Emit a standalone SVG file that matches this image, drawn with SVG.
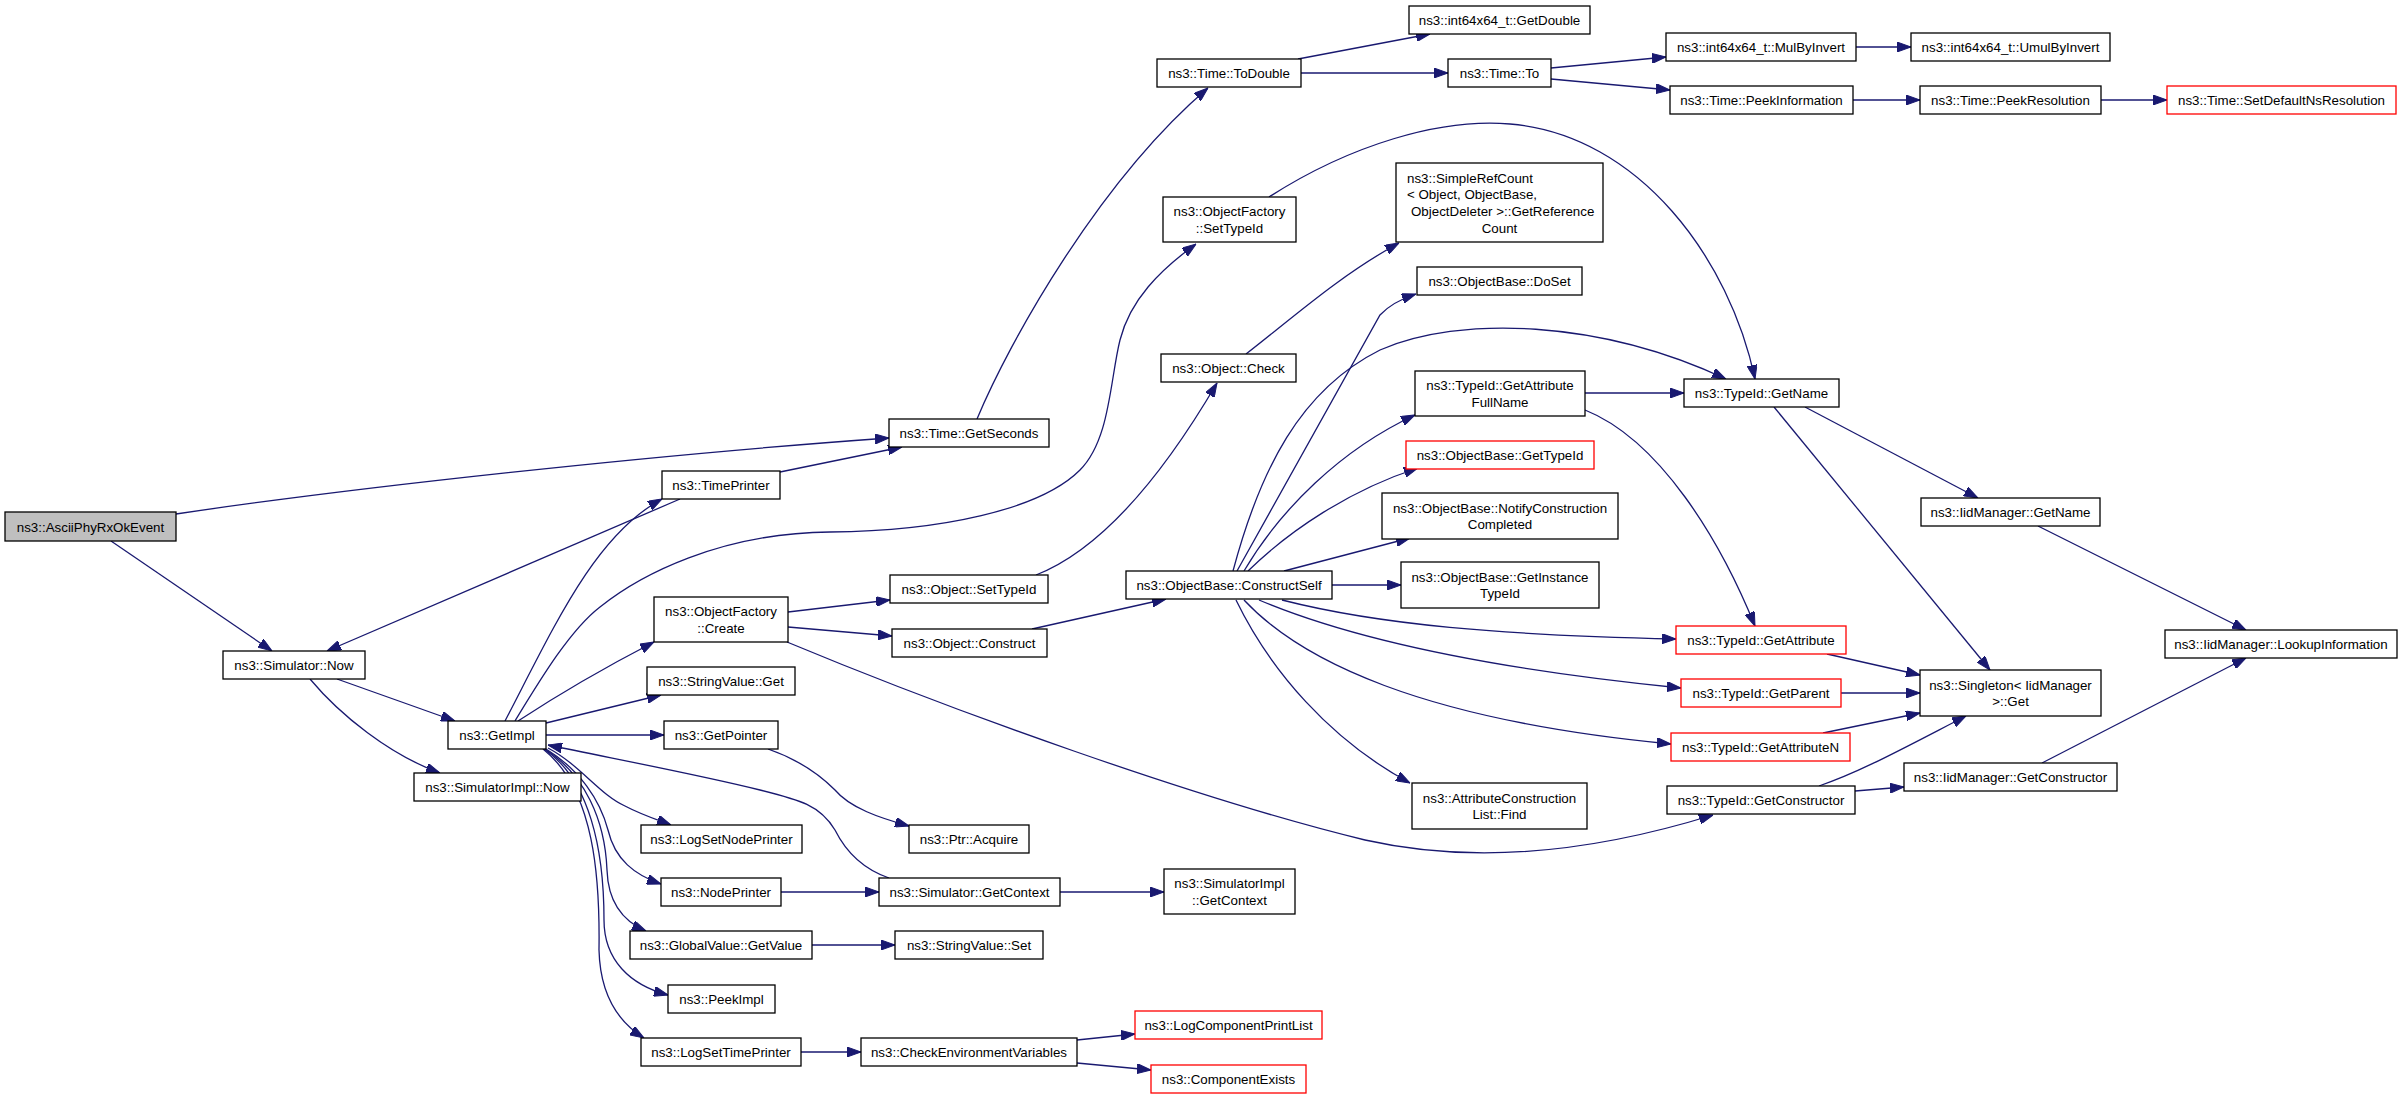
<svg xmlns="http://www.w3.org/2000/svg" width="2403" height="1099" viewBox="0 0 2403 1099">
<defs>
<marker id="ah" markerUnits="userSpaceOnUse" markerWidth="14" markerHeight="10" refX="14" refY="5" orient="auto">
<path d="M0,0 L14,5 L0,10 z" fill="#191970" stroke="#191970" stroke-width="1"/>
</marker>
</defs>
<style>
.n rect{fill:#ffffff;stroke:#000000;stroke-width:1.3}
.n.red rect{stroke:#ff0000}
.n.root rect{fill:#bfbfbf}
.n text{font-family:"Liberation Sans",Arial,Helvetica,sans-serif;font-size:13.33px;fill:#000000;text-anchor:middle}
.n text.l{text-anchor:start}
#edges path{fill:none;stroke:#191970;stroke-width:1.3;marker-end:url(#ah)}
</style>
<rect x="0" y="0" width="2403" height="1099" fill="#ffffff"/>
<g id="edges">
<path d="M176,514 C350,488 650,455 889,438"/>
<path d="M111,541 L272,651"/>
<path d="M780,472 L902,447"/>
<path d="M680,499 L327,651"/>
<path d="M505,721 C555,625 595,535 662,499"/>
<path d="M515,721 C540,680 570,630 600,607 C640,575 720,533 830,532 C940,531 1040,510 1080,470 C1110,440 1110,380 1120,340 C1130,300 1160,270 1196,244"/>
<path d="M337,679 L455,721"/>
<path d="M310,679 C340,715 390,755 440,773"/>
<path d="M518,721 C550,700 600,670 654,642"/>
<path d="M546,723 L661,695"/>
<path d="M546,735 L664,735"/>
<path d="M548,748 C580,765 600,795 625,806 C640,814 655,819 671,825"/>
<path d="M546,749 C580,770 600,800 608,830 C615,860 635,875 661,884"/>
<path d="M545,749 C585,775 605,820 607,870 C608,900 620,920 646,931"/>
<path d="M544,749 C590,780 604,850 604,920 C604,960 630,985 668,995"/>
<path d="M543,749 C595,790 600,880 599,950 C600,990 615,1020 644,1038"/>
<path d="M889,878 C860,868 845,850 835,830 C820,805 800,800 760,790 C700,775 620,760 548,745"/>
<path d="M977,419 C1010,340 1100,180 1208,88"/>
<path d="M1298,59 L1430,34"/>
<path d="M1301,73 L1448,73"/>
<path d="M1551,68 L1666,57"/>
<path d="M1551,79 L1670,90"/>
<path d="M1856,47 L1911,47"/>
<path d="M1853,100 L1920,100"/>
<path d="M2101,100 L2167,100"/>
<path d="M1269,197 C1350,145 1440,118 1510,124 C1640,135 1730,260 1755,379"/>
<path d="M1246,354 C1290,320 1340,275 1399,243"/>
<path d="M1036,575 C1100,550 1160,480 1217,383"/>
<path d="M788,612 L890,600"/>
<path d="M788,627 L892,636"/>
<path d="M1032,629 L1166,599"/>
<path d="M787,642 C950,710 1200,800 1365,840 C1480,866 1600,850 1713,815"/>
<path d="M1233,571 C1260,470 1300,390 1380,350 C1460,315 1600,320 1726,379"/>
<path d="M1237,571 L1380,315 Q1392,302 1416,294"/>
<path d="M1244,571 C1280,510 1340,450 1415,415"/>
<path d="M1248,571 C1290,530 1350,490 1418,468"/>
<path d="M1284,571 L1410,538"/>
<path d="M1332,585 L1401,585"/>
<path d="M1282,600 C1380,625 1500,635 1676,639"/>
<path d="M1259,600 C1330,630 1450,665 1681,688"/>
<path d="M1244,600 C1300,660 1420,720 1671,744"/>
<path d="M1236,600 C1270,670 1330,740 1410,783"/>
<path d="M1585,393 L1684,393"/>
<path d="M1585,410 C1660,440 1720,540 1755,626"/>
<path d="M1774,407 L1990,670"/>
<path d="M1805,407 L1978,498"/>
<path d="M2038,526 L2246,630"/>
<path d="M1827,654 L1920,675"/>
<path d="M1841,693 L1920,693"/>
<path d="M1823,733 L1920,713"/>
<path d="M1819,786 C1860,772 1900,750 1966,716"/>
<path d="M1855,791 L1904,787"/>
<path d="M2042,763 L2246,658"/>
<path d="M768,749 C800,760 820,775 835,790 C850,808 880,818 909,826"/>
<path d="M781,892 L879,892"/>
<path d="M1060,892 L1164,892"/>
<path d="M812,945 L895,945"/>
<path d="M801,1052 L861,1052"/>
<path d="M1077,1040 L1135,1034"/>
<path d="M1077,1063 L1151,1070"/>
</g>
<g id="n_ascii" class="n root"><rect x="5" y="512" width="171" height="29"/><text x="90.5" y="531.5">ns3::AsciiPhyRxOkEvent</text></g>
<g id="n_simnow" class="n"><rect x="223" y="651" width="142" height="28"/><text x="294" y="670">ns3::Simulator::Now</text></g>
<g id="n_simimplnow" class="n"><rect x="414" y="773" width="167" height="28"/><text x="497.5" y="792">ns3::SimulatorImpl::Now</text></g>
<g id="n_getimpl" class="n"><rect x="448" y="721" width="98" height="28"/><text x="497" y="740">ns3::GetImpl</text></g>
<g id="n_timeprinter" class="n"><rect x="662" y="471" width="118" height="28"/><text x="721" y="490">ns3::TimePrinter</text></g>
<g id="n_getseconds" class="n"><rect x="889" y="419" width="160" height="28"/><text x="969" y="438">ns3::Time::GetSeconds</text></g>
<g id="n_todouble" class="n"><rect x="1157" y="59" width="144" height="28"/><text x="1229" y="78">ns3::Time::ToDouble</text></g>
<g id="n_getdouble" class="n"><rect x="1409" y="6" width="181" height="28"/><text x="1499.5" y="25">ns3::int64x64_t::GetDouble</text></g>
<g id="n_timeto" class="n"><rect x="1448" y="59" width="103" height="28"/><text x="1499.5" y="78">ns3::Time::To</text></g>
<g id="n_mulbyinvert" class="n"><rect x="1666" y="33" width="190" height="28"/><text x="1761" y="52">ns3::int64x64_t::MulByInvert</text></g>
<g id="n_umulbyinvert" class="n"><rect x="1911" y="33" width="199" height="28"/><text x="2010.5" y="52">ns3::int64x64_t::UmulByInvert</text></g>
<g id="n_peekinfo" class="n"><rect x="1670" y="86" width="183" height="28"/><text x="1761.5" y="105">ns3::Time::PeekInformation</text></g>
<g id="n_peekres" class="n"><rect x="1920" y="86" width="181" height="28"/><text x="2010.5" y="105">ns3::Time::PeekResolution</text></g>
<g id="n_setdefault" class="n red"><rect x="2167" y="86" width="229" height="28"/><text x="2281.5" y="105">ns3::Time::SetDefaultNsResolution</text></g>
<g id="n_ofsettypeid" class="n"><rect x="1163" y="197" width="133" height="45"/><text x="1229.5" y="216">ns3::ObjectFactory</text><text x="1229.5" y="233">::SetTypeId</text></g>
<g id="n_simplerefcount" class="n"><rect x="1396" y="163" width="207" height="79"/><text class="l" x="1407" y="182.5">ns3::SimpleRefCount</text><text class="l" x="1407" y="199.2">&lt; Object, ObjectBase,</text><text class="l" x="1411" y="215.8">ObjectDeleter &gt;::GetReference</text><text x="1499.5" y="232.5">Count</text></g>
<g id="n_objcheck" class="n"><rect x="1161" y="354" width="135" height="28"/><text x="1228.5" y="373">ns3::Object::Check</text></g>
<g id="n_doset" class="n"><rect x="1417" y="267" width="165" height="28"/><text x="1499.5" y="286">ns3::ObjectBase::DoSet</text></g>
<g id="n_getattrfullname" class="n"><rect x="1415" y="371" width="170" height="45"/><text x="1500" y="390">ns3::TypeId::GetAttribute</text><text x="1500" y="407">FullName</text></g>
<g id="n_typeidgetname" class="n"><rect x="1684" y="379" width="155" height="28"/><text x="1761.5" y="398">ns3::TypeId::GetName</text></g>
<g id="n_obgettypeid" class="n red"><rect x="1406" y="441" width="188" height="28"/><text x="1500" y="460">ns3::ObjectBase::GetTypeId</text></g>
<g id="n_notify" class="n"><rect x="1382" y="493" width="236" height="46"/><text x="1500" y="512.7">ns3::ObjectBase::NotifyConstruction</text><text x="1500" y="529.3">Completed</text></g>
<g id="n_getinstance" class="n"><rect x="1401" y="562" width="198" height="46"/><text x="1500" y="581.7">ns3::ObjectBase::GetInstance</text><text x="1500" y="598.3">TypeId</text></g>
<g id="n_objsettypeid" class="n"><rect x="890" y="575" width="158" height="28"/><text x="969" y="594">ns3::Object::SetTypeId</text></g>
<g id="n_ofcreate" class="n"><rect x="654" y="597" width="134" height="45"/><text x="721" y="616.2">ns3::ObjectFactory</text><text x="721" y="632.8">::Create</text></g>
<g id="n_objconstruct" class="n"><rect x="892" y="629" width="155" height="28"/><text x="969.5" y="648">ns3::Object::Construct</text></g>
<g id="n_constructself" class="n"><rect x="1126" y="571" width="206" height="28"/><text x="1229" y="590">ns3::ObjectBase::ConstructSelf</text></g>
<g id="n_stringget" class="n"><rect x="647" y="667" width="148" height="28"/><text x="721" y="686">ns3::StringValue::Get</text></g>
<g id="n_getpointer" class="n"><rect x="664" y="721" width="114" height="28"/><text x="721" y="740">ns3::GetPointer</text></g>
<g id="n_iidgetname" class="n"><rect x="1921" y="498" width="179" height="28"/><text x="2010.5" y="517">ns3::IidManager::GetName</text></g>
<g id="n_lookup" class="n"><rect x="2165" y="630" width="232" height="28"/><text x="2281" y="649">ns3::IidManager::LookupInformation</text></g>
<g id="n_singleton" class="n"><rect x="1920" y="670" width="181" height="46"/><text x="2010.5" y="689.7">ns3::Singleton&lt; IidManager</text><text x="2010.5" y="706.3">&gt;::Get</text></g>
<g id="n_getattribute" class="n red"><rect x="1676" y="626" width="170" height="28"/><text x="1761" y="645">ns3::TypeId::GetAttribute</text></g>
<g id="n_getparent" class="n red"><rect x="1681" y="679" width="160" height="28"/><text x="1761" y="698">ns3::TypeId::GetParent</text></g>
<g id="n_getattributen" class="n red"><rect x="1671" y="733" width="179" height="28"/><text x="1760.5" y="752">ns3::TypeId::GetAttributeN</text></g>
<g id="n_find" class="n"><rect x="1412" y="783" width="175" height="46"/><text x="1499.5" y="802.7">ns3::AttributeConstruction</text><text x="1499.5" y="819.3">List::Find</text></g>
<g id="n_getconstructor" class="n"><rect x="1667" y="786" width="188" height="28"/><text x="1761" y="805">ns3::TypeId::GetConstructor</text></g>
<g id="n_iidgetconstructor" class="n"><rect x="1904" y="763" width="213" height="28"/><text x="2010.5" y="782">ns3::IidManager::GetConstructor</text></g>
<g id="n_logsetnodeprinter" class="n"><rect x="641" y="825" width="161" height="28"/><text x="721.5" y="844">ns3::LogSetNodePrinter</text></g>
<g id="n_ptracquire" class="n"><rect x="909" y="825" width="120" height="28"/><text x="969" y="844">ns3::Ptr::Acquire</text></g>
<g id="n_nodeprinter" class="n"><rect x="661" y="878" width="120" height="28"/><text x="721" y="897">ns3::NodePrinter</text></g>
<g id="n_simgetcontext" class="n"><rect x="879" y="878" width="181" height="28"/><text x="969.5" y="897">ns3::Simulator::GetContext</text></g>
<g id="n_simimplgetcontext" class="n"><rect x="1164" y="869" width="131" height="45"/><text x="1229.5" y="888.2">ns3::SimulatorImpl</text><text x="1229.5" y="904.8">::GetContext</text></g>
<g id="n_globalgetvalue" class="n"><rect x="630" y="931" width="182" height="28"/><text x="721" y="950">ns3::GlobalValue::GetValue</text></g>
<g id="n_stringset" class="n"><rect x="895" y="931" width="148" height="28"/><text x="969" y="950">ns3::StringValue::Set</text></g>
<g id="n_peekimpl" class="n"><rect x="668" y="985" width="107" height="28"/><text x="721.5" y="1004">ns3::PeekImpl</text></g>
<g id="n_logsettimeprinter" class="n"><rect x="641" y="1038" width="160" height="28"/><text x="721" y="1057">ns3::LogSetTimePrinter</text></g>
<g id="n_checkenv" class="n"><rect x="861" y="1038" width="216" height="28"/><text x="969" y="1057">ns3::CheckEnvironmentVariables</text></g>
<g id="n_logcompprint" class="n red"><rect x="1135" y="1011" width="187" height="28"/><text x="1228.5" y="1030">ns3::LogComponentPrintList</text></g>
<g id="n_compexists" class="n red"><rect x="1151" y="1065" width="155" height="28"/><text x="1228.5" y="1084">ns3::ComponentExists</text></g>
</svg>
